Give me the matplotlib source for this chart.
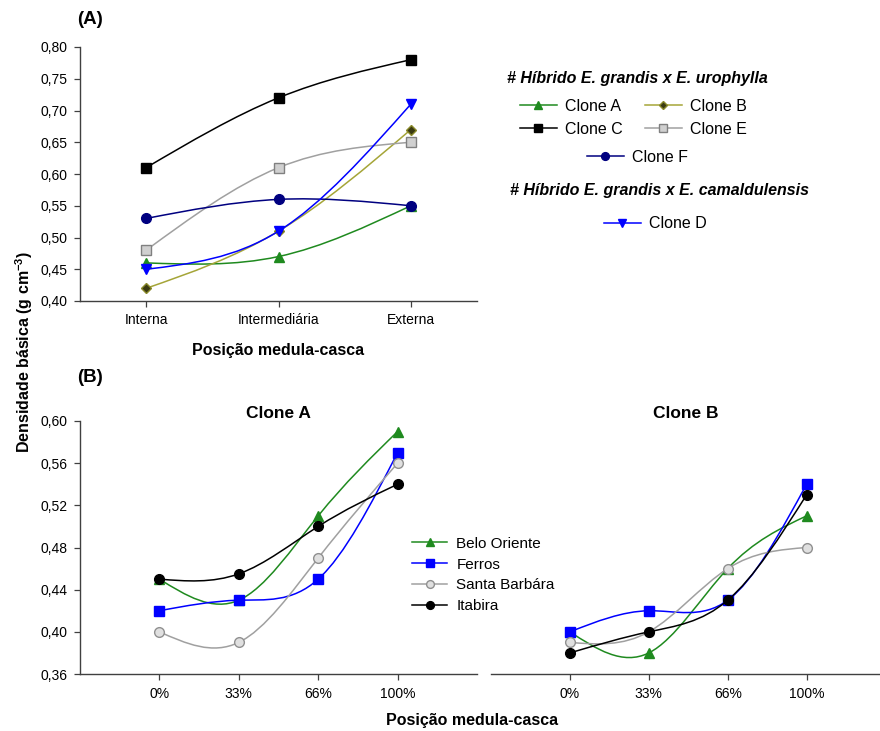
import numpy as np
import matplotlib
matplotlib.use("Agg")
import matplotlib.pyplot as plt
from matplotlib.path import Path
from matplotlib.patches import PathPatch
from matplotlib.lines import Line2D

plt.rcParams['font.family'] = ['Liberation Sans', 'DejaVu Sans']
plt.rcParams['mathtext.fontset'] = 'custom'
plt.rcParams['mathtext.rm'] = 'Liberation Sans'
plt.rcParams['mathtext.bf'] = 'Liberation Sans:bold'

# (A) wood density by radial position, per clone
pos_a = ['Interna', 'Intermediária', 'Externa']
clone_a = [0.46, 0.47, 0.55]
clone_b = [0.42, 0.51, 0.67]
clone_c = [0.61, 0.72, 0.78]
clone_e = [0.48, 0.61, 0.65]
clone_f = [0.53, 0.56, 0.55]
clone_d = [0.45, 0.51, 0.71]
yticks_a = [0.40, 0.45, 0.50, 0.55, 0.60, 0.65, 0.70, 0.75, 0.80]
ylabels_a = ['0,40', '0,45', '0,50', '0,55', '0,60', '0,65', '0,70', '0,75', '0,80']

# (B) density by site for clones A and B
pos_b = ['0%', '33%', '66%', '100%']
sites = ['Belo Oriente', 'Ferros', 'Santa Barbára', 'Itabira']
site_clone_a = {
    'Belo Oriente': [0.45, 0.43, 0.51, 0.59],
    'Ferros': [0.42, 0.43, 0.45, 0.57],
    'Santa Barbára': [0.40, 0.39, 0.47, 0.56],
    'Itabira': [0.45, 0.455, 0.50, 0.54],
}
site_clone_b = {
    'Belo Oriente': [0.40, 0.38, 0.46, 0.51],
    'Ferros': [0.40, 0.42, 0.43, 0.54],
    'Santa Barbára': [0.39, 0.40, 0.46, 0.48],
    'Itabira': [0.38, 0.40, 0.43, 0.53],
}
yticks_b = [0.36, 0.40, 0.44, 0.48, 0.52, 0.56, 0.60]
ylabels_b = ['0,36', '0,40', '0,44', '0,48', '0,52', '0,56', '0,60']

# line colour, marker, marker face, marker edge
style_a = {
    'Clone A': ('#1f8a1f', '^', '#1f8a1f', '#1f8a1f'),
    'Clone B': ('#a5a538', 'D', '#3a3a12', '#8a8a2a'),
    'Clone C': ('#000000', 's', '#000000', '#000000'),
    'Clone E': ('#a0a0a0', 's', '#d0d0d0', '#808080'),
    'Clone F': ('#000080', 'o', '#000080', '#000080'),
    'Clone D': ('#0000ff', 'v', '#0000ff', '#0000ff'),
}
style_b = {
    'Belo Oriente': ('#1f8a1f', '^', '#1f8a1f', '#1f8a1f'),
    'Ferros': ('#0000ff', 's', '#0000ff', '#0000ff'),
    'Santa Barbára': ('#a0a0a0', 'o', '#e0e0e0', '#909090'),
    'Itabira': ('#000000', 'o', '#000000', '#000000'),
}
msize = {'^': 7, 'v': 7, 's': 6.5, 'D': 5.5, 'o': 7}


def spline_path(x, y):
    # natural cubic spline, written out as bezier segments
    x = np.asarray(x, float)
    y = np.asarray(y, float)
    n = len(x)
    h = np.diff(x)
    A = np.zeros((n, n))
    r = np.zeros(n)
    A[0, 0] = A[-1, -1] = 1
    for i in range(1, n - 1):
        A[i, i - 1] = h[i - 1]
        A[i, i] = 2 * (h[i - 1] + h[i])
        A[i, i + 1] = h[i]
        r[i] = 6 * ((y[i + 1] - y[i]) / h[i] - (y[i] - y[i - 1]) / h[i - 1])
    M = np.linalg.solve(A, r)
    verts = [(x[0], y[0])]
    codes = [Path.MOVETO]
    for i in range(n - 1):
        s = (y[i + 1] - y[i]) / h[i]
        m0 = s - h[i] * (2 * M[i] + M[i + 1]) / 6
        m1 = s + h[i] * (M[i] + 2 * M[i + 1]) / 6
        verts += [(x[i] + h[i] / 3, y[i] + m0 * h[i] / 3),
                  (x[i + 1] - h[i] / 3, y[i + 1] - m1 * h[i] / 3),
                  (x[i + 1], y[i + 1])]
        codes += [Path.CURVE4] * 3
    return Path(verts, codes)


def draw_series(ax, x, y, st, z):
    col, mk, fc, ec = st
    ax.add_patch(PathPatch(spline_path(x, y), fill=False, edgecolor=col,
                           lw=1.1, zorder=z))
    ax.plot(x, y, ls='none', marker=mk, ms=msize[mk], mfc=fc, mec=ec,
            mew=1.0, zorder=z + 0.5, clip_on=False)


def handle(st):
    col, mk, fc, ec = st
    return Line2D([], [], color=col, lw=1.1, marker=mk, ms=msize[mk] * 0.8,
                  mfc=fc, mec=ec, mew=1.0)


def style_axes(ax, left=True):
    for s in ['top', 'right']:
        ax.spines[s].set_visible(False)
    for s in ['left', 'bottom']:
        ax.spines[s].set_color('#404040')
        ax.spines[s].set_linewidth(1.0)
    ax.tick_params(direction='out', length=4, width=0.9, color='#404040',
                   labelsize=10, pad=5)
    if not left:
        ax.spines['left'].set_visible(False)
        ax.tick_params(axis='y', left=False, labelleft=False)


fig = plt.figure(figsize=(8.8, 7.31), dpi=100)

# ---- panel A
axA = fig.add_axes([80 / 880, 1 - 301 / 731, 397 / 880, 254 / 731])
xa = np.arange(len(pos_a))
series_a = [('Clone A', clone_a), ('Clone B', clone_b), ('Clone C', clone_c),
            ('Clone E', clone_e), ('Clone F', clone_f), ('Clone D', clone_d)]
for k, (name, vals) in enumerate(series_a):
    draw_series(axA, xa, vals, style_a[name], 2 + k)
axA.set_xlim(-0.5, 2.5)
axA.set_ylim(0.40, 0.80)
axA.set_xticks(xa, pos_a)
axA.set_yticks(yticks_a, ylabels_a)
style_axes(axA)
axA.set_xlabel('Posição medula-casca', fontsize=11.5, fontweight='bold',
               labelpad=11)

fig.text(77 / 880, 1 - 20 / 731, '(A)', fontsize=13.5, fontweight='bold',
         ha='left', va='center')

fig.text(507 / 880, 1 - 78 / 731, '# Híbrido E. grandis x E. urophylla',
         fontsize=11.5, fontweight='bold', style='italic', ha='left',
         va='center')
fig.text(510 / 880, 1 - 191 / 731, '# Híbrido E. grandis x E. camaldulensis',
         fontsize=11.5, fontweight='bold', style='italic', ha='left',
         va='center')

leg_kw = dict(frameon=False, borderpad=0, borderaxespad=0, fontsize=11.5,
              handlelength=2.3, handletextpad=0.5, labelspacing=0.5,
              loc='center left')
fig.legend([handle(style_a[n]) for n in ['Clone A', 'Clone C', 'Clone B', 'Clone E']],
           ['Clone A', 'Clone C', 'Clone B', 'Clone E'], ncol=2,
           columnspacing=1.4, bbox_to_anchor=(520 / 880, 1 - 118 / 731), **leg_kw)
fig.legend([handle(style_a['Clone F'])], ['Clone F'],
           bbox_to_anchor=(587 / 880, 1 - 157 / 731), **leg_kw)
fig.legend([handle(style_a['Clone D'])], ['Clone D'],
           bbox_to_anchor=(604 / 880, 1 - 224 / 731), **leg_kw)

# ---- panel B
axB1 = fig.add_axes([80 / 880, 1 - 674 / 731, 397 / 880, 253 / 731])
axB2 = fig.add_axes([491 / 880, 1 - 674 / 731, 389 / 880, 253 / 731])
xb = np.arange(len(pos_b))
for ax, data, title in [(axB1, site_clone_a, 'Clone A'),
                        (axB2, site_clone_b, 'Clone B')]:
    for k, name in enumerate(sites):
        draw_series(ax, xb, data[name], style_b[name], 2 + k)
    ax.set_ylim(0.36, 0.60)
    ax.set_xticks(xb, pos_b)
    ax.set_title(title, fontsize=12.5, fontweight='bold', pad=0)
axB1.set_xlim(-1, 4)
axB2.set_xlim(-1, 3.93)
axB1.set_yticks(yticks_b, ylabels_b)
style_axes(axB1)
style_axes(axB2, left=False)

fig.text(77 / 880, 1 - 377 / 731, '(B)', fontsize=13.5, fontweight='bold',
         ha='left', va='center')
fig.text(472 / 880, 1 - 720 / 731, 'Posição medula-casca', fontsize=11.5,
         fontweight='bold', ha='center', va='center')

fig.legend([handle(style_b[n]) for n in sites], sites, frameon=False,
           borderpad=0, borderaxespad=0, fontsize=11, handlelength=2.3,
           handletextpad=0.6, labelspacing=0.45, loc='center left',
           bbox_to_anchor=(412 / 880, 1 - 575 / 731))

fig.text(24 / 880, 1 - 352 / 731, r'Densidade básica (g cm$^{\mathbf{-3}}$)',
         fontsize=11.5, fontweight='bold', rotation=90, ha='center',
         va='center')

fig.savefig('out.png', dpi=100)
